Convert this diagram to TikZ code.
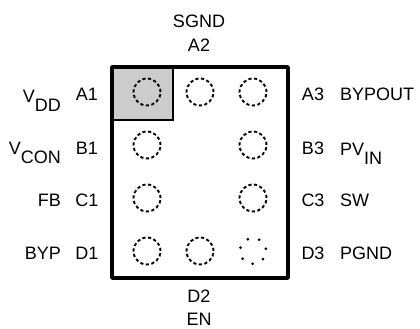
\documentclass[tikz,border=0pt]{standalone}
\usepackage{fontspec}
\setmainfont{Liberation Sans}
\usetikzlibrary{positioning}
\tikzset{
    pad/.style={circle, draw, line width=1.9pt, dash pattern=on 3.2pt off 2.45pt, minimum size=27pt, inner sep=0pt},
    padgnd/.style={circle, draw, line width=3pt, line cap=round, dash pattern=on 0pt off 11.67pt, minimum size=26pt, inner sep=0pt},
    pinlabel/.style={font=\fontsize{18}{20}\selectfont, inner sep=0pt},
}
\begin{document}
\begin{tikzpicture}[x=1pt, y=-1pt, node distance=53pt, on grid]
    \useasboundingbox (0,0) rectangle (420,329);

    \fill[black!20] (112,67) rectangle (173,120);
    \draw[line width=3.4pt, line join=round] (112,67) rectangle (288,278);
    \draw[line width=2.8pt] (112,120) -| (173,67);

    \node[pad] (A1) at (147,92) {};
    \node[pad] (A2) [right=of A1] {};
    \node[pad] (A3) [right=of A2] {};
    \node[pad] (B1) [below=of A1] {};
    \node[pad] (B3) [below=of A3] {};
    \node[pad] (C1) [below=of B1] {};
    \node[pad] (C3) [below=of B3] {};
    \node[pad] (D1) [below=of C1] {};
    \node[pad] (D2) [right=of D1] {};
    \node[padgnd, rotate=10] (D3) [below=of C3] {};

    \node[pinlabel] (lA1) at (87,94.5) {A1};
    \node[pinlabel] (lB1) at (87,148.5) {B1};
    \node[pinlabel] (lC1) at (87,200) {C1};
    \node[pinlabel] (lD1) at (87,253) {D1};
    \node[pinlabel] (lA3) at (313,94.5) {A3};
    \node[pinlabel] (lB3) at (313,148.5) {B3};
    \node[pinlabel] (lC3) at (313,200) {C3};
    \node[pinlabel] (lD3) at (313,253) {D3};
    \node[pinlabel] (lA2) at (199,45) {A2};
    \node[pinlabel] (SGND) at (199,21) {SGND};
    \node[pinlabel] (lD2) at (199,296) {D2};
    \node[pinlabel] (EN) at (199,319) {EN};

    \node[pinlabel, anchor=base east] (VDD) at (61,102.5) {V\raisebox{-9pt}{DD}};
    \node[pinlabel, anchor=base east] (VCON) at (61,154) {V\raisebox{-9pt}{CON}};
    \node[pinlabel, anchor=east] (FB) at (61,200) {FB};
    \node[pinlabel, anchor=east] (BYP) at (61,253) {BYP};
    \node[pinlabel, anchor=west] (BYPOUT) at (340,94.5) {BYPOUT};
    \node[pinlabel, anchor=base west] (PVIN) at (340,155) {PV\raisebox{-9pt}{IN}};
    \node[pinlabel, anchor=west] (SW) at (340,200) {SW};
    \node[pinlabel, anchor=west] (PGND) at (340,253) {PGND};
\end{tikzpicture}
\end{document}
